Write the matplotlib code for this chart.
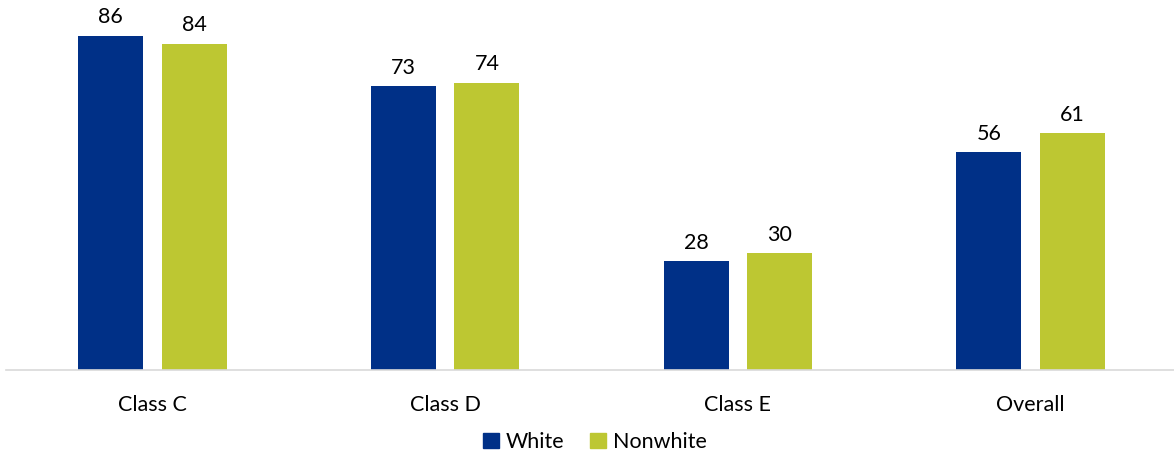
import matplotlib
matplotlib.use('Agg')
import matplotlib.pyplot as plt
import numpy as np
from matplotlib.patches import Patch

plt.rcParams['font.family'] = ['Lato', 'DejaVu Sans']

categories = ['Class C', 'Class D', 'Class E', 'Overall']
white = [86, 73, 28, 56]
nonwhite = [84, 74, 30, 61]
series_names = ['White', 'Nonwhite']
colors = ['#003087', '#BDC732']

fig = plt.figure(figsize=(11.74, 4.54), dpi=100)
ax = fig.add_axes([6 / 1174, 84 / 454, 1171 / 1174, 370 / 454])

x = np.arange(len(categories))
w = 0.222
off = 0.143
b1 = ax.bar(x - off, white, w, color=colors[0])
b2 = ax.bar(x + off, nonwhite, w, color=colors[1])

for bars, vals in [(b1, white), (b2, nonwhite)]:
    for r, v in zip(bars, vals):
        ax.annotate(str(v), (r.get_x() + r.get_width() / 2, v),
                    xytext=(0, 9), textcoords='offset points',
                    ha='center', va='baseline', fontsize=15.5, color='#000000')

ax.set_xlim(-0.5, len(categories) - 0.5)
ax.set_ylim(0, 370 / 3.884)
ax.set_xticks(x)
ax.set_xticklabels(categories, fontsize=15.5)
ax.tick_params(axis='x', length=0, pad=18)
ax.set_yticks([])
for s in ['top', 'right', 'left']:
    ax.spines[s].set_visible(False)
ax.spines['bottom'].set_color('#d9d9d9')
ax.spines['bottom'].set_linewidth(1.2)

handles = [Patch(color=c, label=n) for c, n in zip(colors, series_names)]
fig.legend(handles=handles, loc='center', bbox_to_anchor=(595 / 1174, 1 - 442 / 454),
           ncol=2, frameon=False, fontsize=15.5, handlelength=0.75, handleheight=0.75,
           handletextpad=0.3, columnspacing=1.2)

fig.savefig('out.png', dpi=100)
